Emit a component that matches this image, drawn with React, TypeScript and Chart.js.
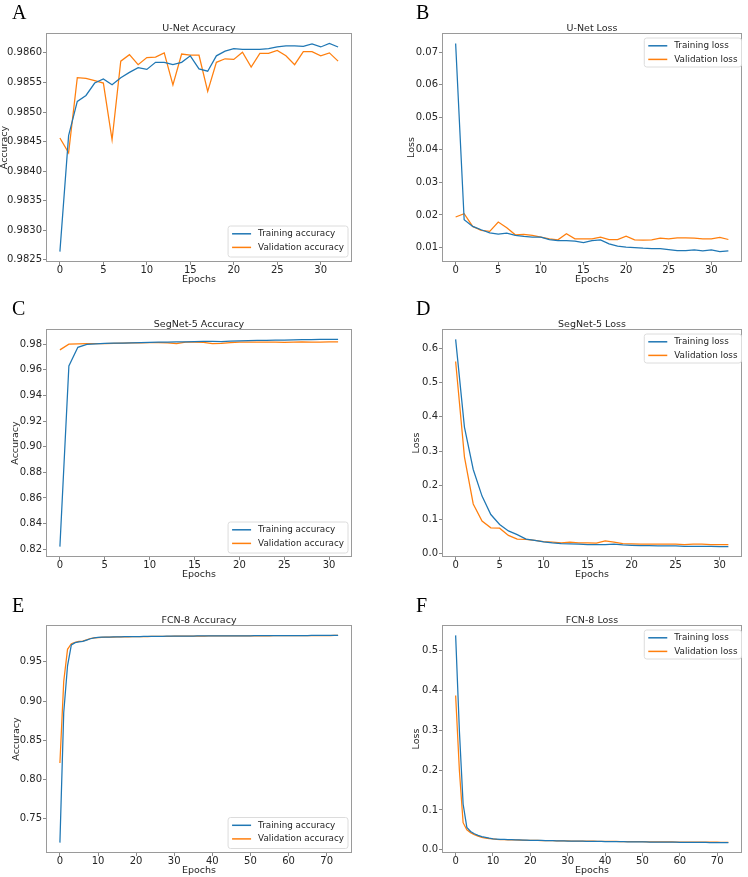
import React, { useEffect, useRef } from "react";
import { Chart, registerables } from "chart.js";

Chart.register(...registerables);

// ---------------- data ----------------
const X_TICKS_SHORT = [0, 5, 10, 15, 20, 25, 30];
const X_TICKS_LONG = [0, 10, 20, 30, 40, 50, 60, 70];

// U-Net
const A_TRAIN = [0.98264, 0.9846, 0.98518, 0.98528, 0.98549, 0.98556, 0.98546, 0.98558, 0.98567, 0.98575, 0.98572, 0.98584, 0.98584, 0.9858, 0.98584, 0.98595, 0.98573, 0.98569, 0.98595, 0.98603, 0.98607, 0.98606, 0.98606, 0.98606, 0.98607, 0.9861, 0.98612, 0.98612, 0.98611, 0.98615, 0.9861, 0.98616, 0.9861];
const A_VAL = [0.98456, 0.98431, 0.98558, 0.98557, 0.98553, 0.98549, 0.98453, 0.98586, 0.98597, 0.9858, 0.98592, 0.98593, 0.986, 0.98546, 0.98598, 0.98596, 0.98596, 0.98535, 0.98584, 0.9859, 0.98589, 0.98601, 0.98576, 0.98599, 0.98599, 0.98604, 0.98595, 0.9858, 0.98602, 0.98602, 0.98595, 0.986, 0.98586];
const A_Y_TICKS = [0.9825, 0.983, 0.9835, 0.984, 0.9845, 0.985, 0.9855, 0.986];

const B_TRAIN = [0.0727, 0.01856, 0.0165, 0.01546, 0.01454, 0.01412, 0.01443, 0.01371, 0.0134, 0.0132, 0.0132, 0.01247, 0.01216, 0.01216, 0.01196, 0.01155, 0.01216, 0.01237, 0.01113, 0.01041, 0.0101, 0.01, 0.0098, 0.00969, 0.00969, 0.00938, 0.00907, 0.00907, 0.00928, 0.00897, 0.00928, 0.00876, 0.00897];
const B_VAL = [0.01938, 0.02041, 0.01649, 0.01526, 0.01495, 0.01784, 0.01608, 0.01392, 0.01402, 0.01371, 0.0132, 0.01268, 0.01237, 0.01423, 0.01268, 0.01268, 0.01268, 0.0132, 0.01247, 0.01247, 0.0135, 0.01237, 0.01227, 0.01237, 0.01289, 0.01268, 0.01299, 0.01299, 0.01289, 0.01268, 0.01268, 0.0131, 0.01247];
const B_Y_TICKS = [0.01, 0.02, 0.03, 0.04, 0.05, 0.06, 0.07];

// SegNet-5
const C_TRAIN = [0.822, 0.963, 0.9775, 0.9797, 0.9802, 0.9805, 0.9807, 0.9808, 0.981, 0.9812, 0.9814, 0.9815, 0.9816, 0.9817, 0.9818, 0.982, 0.9821, 0.9821, 0.982, 0.9823, 0.9826, 0.9827, 0.9829, 0.983, 0.9831, 0.9832, 0.9833, 0.9834, 0.9835, 0.9836, 0.9837, 0.9836];
const C_VAL = [0.9755, 0.98, 0.9802, 0.9803, 0.9803, 0.9804, 0.9806, 0.9808, 0.9809, 0.981, 0.9811, 0.9812, 0.981, 0.9803, 0.9815, 0.9815, 0.9813, 0.9804, 0.9806, 0.9811, 0.9815, 0.9815, 0.9816, 0.9815, 0.9815, 0.9814, 0.9816, 0.9817, 0.9816, 0.9816, 0.9817, 0.9817];
const C_Y_TICKS = [0.82, 0.84, 0.86, 0.88, 0.9, 0.92, 0.94, 0.96, 0.98];

const D_TRAIN = [0.627, 0.37, 0.246, 0.168, 0.114, 0.085, 0.066, 0.055, 0.042, 0.038, 0.034, 0.031, 0.029, 0.028, 0.027, 0.026, 0.026, 0.026, 0.027, 0.025, 0.024, 0.023, 0.023, 0.022, 0.022, 0.022, 0.021, 0.021, 0.021, 0.021, 0.02, 0.02];
const D_VAL = [0.562, 0.283, 0.145, 0.095, 0.075, 0.074, 0.053, 0.042, 0.041, 0.038, 0.035, 0.033, 0.031, 0.033, 0.031, 0.031, 0.03, 0.037, 0.033, 0.029, 0.028, 0.027, 0.027, 0.027, 0.027, 0.027, 0.026, 0.027, 0.027, 0.026, 0.026, 0.026];
const D_Y_TICKS = [0, 0.1, 0.2, 0.3, 0.4, 0.5, 0.6];

// FCN-8
const E_TRAIN = [
  0.7194, 0.885, 0.945, 0.9715, 0.9745, 0.9755, 0.9762, 0.9778, 0.9795, 0.9805,
  0.9811, 0.9814, 0.9816, 0.9817, 0.9818, 0.9819, 0.982, 0.9821, 0.9821, 0.9822,
  0.9823, 0.9823, 0.9824, 0.9824, 0.9825, 0.9825, 0.9826, 0.9826, 0.9827, 0.9827,
  0.9828, 0.9828, 0.9828, 0.9829, 0.9829, 0.9829, 0.983, 0.983, 0.983, 0.9831,
  0.9831, 0.9831, 0.9831, 0.9832, 0.9832, 0.9832, 0.9832, 0.9833, 0.9833, 0.9833,
  0.9833, 0.9834, 0.9834, 0.9834, 0.9834, 0.9834, 0.9835, 0.9835, 0.9835, 0.9835,
  0.9835, 0.9836, 0.9836, 0.9836, 0.9836, 0.9836, 0.9837, 0.9837, 0.9837, 0.9837,
  0.9837, 0.9837, 0.9838, 0.9838,
];
const E_VAL = [
  0.821, 0.925, 0.966, 0.9732, 0.975, 0.976, 0.9765, 0.978, 0.9798, 0.9806,
  0.981, 0.9813, 0.9815, 0.9816, 0.9817, 0.9818, 0.9819, 0.982, 0.982, 0.9821,
  0.9822, 0.9822, 0.9823, 0.9823, 0.9824, 0.9824, 0.9825, 0.9825, 0.9826, 0.9826,
  0.9827, 0.9827, 0.9827, 0.9828, 0.9828, 0.9828, 0.9829, 0.9829, 0.9829, 0.983,
  0.983, 0.983, 0.983, 0.9831, 0.9831, 0.9831, 0.9831, 0.9832, 0.9832, 0.9832,
  0.9832, 0.9833, 0.9833, 0.9833, 0.9833, 0.9833, 0.9834, 0.9834, 0.9834, 0.9834,
  0.9834, 0.9835, 0.9835, 0.9835, 0.9835, 0.9835, 0.9836, 0.9836, 0.9836, 0.9836,
  0.9836, 0.9836, 0.9837, 0.9837,
];
const E_Y_TICKS = [0.75, 0.8, 0.85, 0.9, 0.95];

const F_TRAIN = [
  0.539, 0.3, 0.115, 0.056, 0.046, 0.04, 0.036, 0.033, 0.031, 0.029,
  0.0275, 0.0268, 0.0262, 0.0258, 0.0255, 0.0252, 0.0249, 0.0246, 0.0243, 0.024,
  0.0238, 0.0236, 0.0234, 0.0232, 0.023, 0.0228, 0.0226, 0.0224, 0.0222, 0.022,
  0.0218, 0.0217, 0.0216, 0.0215, 0.0213, 0.0212, 0.0211, 0.021, 0.0209, 0.0207,
  0.0206, 0.0205, 0.0204, 0.0203, 0.0202, 0.0201, 0.02, 0.0199, 0.0198, 0.0197,
  0.0196, 0.0195, 0.0194, 0.0193, 0.0192, 0.0191, 0.019, 0.019, 0.0189, 0.0188,
  0.0187, 0.0186, 0.0186, 0.0185, 0.0184, 0.0183, 0.0183, 0.0182, 0.0181, 0.0181,
  0.018, 0.0179, 0.0179, 0.0178,
];
const F_VAL = [
  0.388, 0.2, 0.068, 0.05, 0.043, 0.038, 0.034, 0.031, 0.029, 0.028,
  0.027, 0.026, 0.0256, 0.0252, 0.025, 0.0247, 0.0245, 0.0243, 0.024, 0.0238,
  0.0236, 0.0235, 0.0233, 0.0231, 0.0229, 0.0228, 0.0226, 0.0225, 0.0223, 0.0222,
  0.022, 0.0219, 0.0218, 0.0217, 0.0216, 0.0215, 0.0214, 0.0213, 0.0212, 0.0211,
  0.021, 0.0209, 0.0208, 0.0207, 0.0206, 0.0205, 0.0204, 0.0203, 0.0203, 0.0202,
  0.0201, 0.02, 0.0199, 0.0199, 0.0198, 0.0197, 0.0196, 0.0196, 0.0195, 0.0194,
  0.0194, 0.0193, 0.0192, 0.0192, 0.0191, 0.0191, 0.019, 0.019, 0.0189, 0.0188,
  0.0188, 0.0187, 0.0187, 0.0186,
];
const F_Y_TICKS = [0, 0.1, 0.2, 0.3, 0.4, 0.5];

// ---------------- style ----------------
const BLUE = "#1f77b4";
const ORANGE = "#ff7f0e";
const FONT = "'DejaVu Sans', sans-serif";
const TEXT = "#262626";
const TICK_SIZE = 10;
const LABEL_SIZE = 9.5;
const TITLE_LH = 0.8;
const LEGEND_SIZE = 8.8;
const X_AXIS_H = 22.75;
const TITLE_GAP = 0.5;

type Box = { l: number; t: number; r: number; b: number };
type Panel = {
  letter: string;
  title: string;
  yTitle: string;
  train: number[];
  val: number[];
  trainLabel: string;
  valLabel: string;
  xTicks: number[];
  yTicks: number[];
  yDec: number;
  canvas: { x: number; y: number; w: number; h: number };
  box: Box;
  yLabelOff: number;
  legend: "lower" | "upper";
  legInset: { r: number; v: number };
  legH: number;
  letterPos: { x: number; y: number };
};

const PANELS: Panel[] = [
  {
    letter: "A", title: "U-Net Accuracy", yTitle: "Accuracy", train: A_TRAIN, val: A_VAL,
    trainLabel: "Training accuracy", valLabel: "Validation accuracy",
    xTicks: X_TICKS_SHORT, yTicks: A_Y_TICKS, yDec: 4,
    canvas: { x: 0, y: 0, w: 374, h: 290 }, box: { l: 46, t: 33, r: 352, b: 262 },
    yLabelOff: 41.5, legend: "lower", legInset: { r: 4, v: 5 }, legH: 31, letterPos: { x: 12, y: 1.5 },
  },
  {
    letter: "B", title: "U-Net Loss", yTitle: "Loss", train: B_TRAIN, val: B_VAL,
    trainLabel: "Training loss", valLabel: "Validation loss",
    xTicks: X_TICKS_SHORT, yTicks: B_Y_TICKS, yDec: 2,
    canvas: { x: 374, y: 0, w: 374, h: 290 }, box: { l: 442, t: 33, r: 742, b: 262 },
    yLabelOff: 30.5, legend: "upper", legInset: { r: 0.5, v: 5 }, legH: 29, letterPos: { x: 416, y: 1.5 },
  },
  {
    letter: "C", title: "SegNet-5 Accuracy", yTitle: "Accuracy", train: C_TRAIN, val: C_VAL,
    trainLabel: "Training accuracy", valLabel: "Validation accuracy",
    xTicks: X_TICKS_SHORT, yTicks: C_Y_TICKS, yDec: 2,
    canvas: { x: 0, y: 290, w: 374, h: 290 }, box: { l: 46, t: 329, r: 352, b: 557 },
    yLabelOff: 30, legend: "lower", legInset: { r: 4, v: 4 }, legH: 31, letterPos: { x: 12, y: 298 },
  },
  {
    letter: "D", title: "SegNet-5 Loss", yTitle: "Loss", train: D_TRAIN, val: D_VAL,
    trainLabel: "Training loss", valLabel: "Validation loss",
    xTicks: X_TICKS_SHORT, yTicks: D_Y_TICKS, yDec: 1,
    canvas: { x: 374, y: 290, w: 374, h: 290 }, box: { l: 442, t: 329, r: 742, b: 557 },
    yLabelOff: 25.3, legend: "upper", legInset: { r: 0.5, v: 5 }, legH: 29, letterPos: { x: 416, y: 298 },
  },
  {
    letter: "E", title: "FCN-8 Accuracy", yTitle: "Accuracy", train: E_TRAIN, val: E_VAL,
    trainLabel: "Training accuracy", valLabel: "Validation accuracy",
    xTicks: X_TICKS_LONG, yTicks: E_Y_TICKS, yDec: 2,
    canvas: { x: 0, y: 580, w: 374, h: 297 }, box: { l: 46, t: 625, r: 352, b: 853 },
    yLabelOff: 29.5, legend: "lower", legInset: { r: 4, v: 4.5 }, legH: 31, letterPos: { x: 12, y: 595 },
  },
  {
    letter: "F", title: "FCN-8 Loss", yTitle: "Loss", train: F_TRAIN, val: F_VAL,
    trainLabel: "Training loss", valLabel: "Validation loss",
    xTicks: X_TICKS_LONG, yTicks: F_Y_TICKS, yDec: 1,
    canvas: { x: 374, y: 580, w: 374, h: 297 }, box: { l: 442, t: 625, r: 742, b: 853 },
    yLabelOff: 25.5, legend: "upper", legInset: { r: 0.5, v: 5 }, legH: 29, letterPos: { x: 416, y: 595 },
  },
];

// ---------------- plugins ----------------
const framePlugin = {
  id: "frame",
  afterDatasetsDraw(chart: any) {
    const { ctx, chartArea } = chart;
    const l = Math.round(chartArea.left) + 0.5;
    const t = Math.round(chartArea.top) + 0.5;
    const r = Math.round(chartArea.right) - 0.5;
    const b = Math.round(chartArea.bottom) - 0.5;
    ctx.save();
    ctx.strokeStyle = "#9a9a9a";
    ctx.lineWidth = 1;
    ctx.strokeRect(l, t, r - l, b - t);
    ctx.restore();
  },
};

const boxLegendPlugin = {
  id: "boxLegend",
  afterDraw(chart: any, _args: any, opts: any) {
    const { ctx, chartArea } = chart;
    const items = chart.data.datasets;
    ctx.save();
    ctx.font = `${LEGEND_SIZE}px ${FONT}`;
    const textW = Math.max(...items.map((d: any) => ctx.measureText(d.label).width));
    const w = 30 + textW + 4;
    const h = opts.h;
    const x = chartArea.right - opts.inset.r - w;
    const y = opts.pos === "lower" ? chartArea.bottom - opts.inset.v - h : chartArea.top + opts.inset.v;
    const rr = 2.5;
    ctx.beginPath();
    ctx.moveTo(x + rr, y);
    ctx.lineTo(x + w - rr, y);
    ctx.arcTo(x + w, y, x + w, y + rr, rr);
    ctx.lineTo(x + w, y + h - rr);
    ctx.arcTo(x + w, y + h, x + w - rr, y + h, rr);
    ctx.lineTo(x + rr, y + h);
    ctx.arcTo(x, y + h, x, y + h - rr, rr);
    ctx.lineTo(x, y + rr);
    ctx.arcTo(x, y, x + rr, y, rr);
    ctx.closePath();
    ctx.fillStyle = "rgba(255,255,255,0.8)";
    ctx.fill();
    ctx.strokeStyle = "#dcdcdc";
    ctx.lineWidth = 1;
    ctx.stroke();
    items.forEach((d: any, i: number) => {
      const cy = y + 7.8 + i * 13.6;
      ctx.strokeStyle = d.borderColor;
      ctx.lineWidth = 1.5;
      ctx.beginPath();
      ctx.moveTo(x + 4, cy);
      ctx.lineTo(x + 23, cy);
      ctx.stroke();
      ctx.fillStyle = TEXT;
      ctx.textBaseline = "middle";
      ctx.textAlign = "left";
      ctx.fillText(d.label, x + 30, cy);
    });
    ctx.restore();
  },
};

// ---------------- components ----------------
function PanelChart({ p }: { p: Panel }) {
  const ref = useRef<HTMLCanvasElement>(null);
  useEffect(() => {
    if (!ref.current) return;
    const all = [...p.train, ...p.val];
    const lo = Math.min(...all);
    const hi = Math.max(...all);
    const ym = (hi - lo) * 0.05;
    const n = Math.max(p.train.length, p.val.length) - 1;
    const xm = n * 0.05;

    const labelLH = LABEL_SIZE; // lineHeight 1
    const yAxisW = p.yLabelOff + labelLH / 2;
    const padLeft = p.box.l - p.canvas.x - yAxisW;
    const padRight = p.canvas.x + p.canvas.w - p.box.r;
    const padTop = p.box.t - p.canvas.y - (LABEL_SIZE * TITLE_LH + TITLE_GAP);
    const padBottom = p.canvas.y + p.canvas.h - (p.box.b + X_AXIS_H);

    const tickFont = { family: FONT, size: TICK_SIZE, lineHeight: 1 };
    const labelFont = { family: FONT, size: LABEL_SIZE, lineHeight: 1 };

    const chart = new Chart(ref.current, {
      type: "line",
      data: {
        datasets: [
          {
            label: p.trainLabel,
            data: p.train.map((v, i) => ({ x: i, y: v })),
            borderColor: BLUE,
            backgroundColor: BLUE,
            borderWidth: 1.25,
            pointRadius: 0,
            tension: 0,
          },
          {
            label: p.valLabel,
            data: p.val.map((v, i) => ({ x: i, y: v })),
            borderColor: ORANGE,
            backgroundColor: ORANGE,
            borderWidth: 1.25,
            pointRadius: 0,
            tension: 0,
          },
        ],
      },
      options: {
        responsive: false,
        animation: false,
        devicePixelRatio: 1,
        events: [],
        layout: { padding: { left: padLeft, right: padRight, top: padTop, bottom: padBottom } },
        plugins: {
          legend: { display: false },
          tooltip: { enabled: false },
          title: {
            display: true,
            text: p.title,
            fullSize: false,
            color: TEXT,
            font: { family: FONT, size: LABEL_SIZE, lineHeight: TITLE_LH, weight: "normal" },
            padding: { top: 0, bottom: TITLE_GAP },
          },
          boxLegend: { pos: p.legend, inset: p.legInset, h: p.legH },
        } as any,
        scales: {
          x: {
            type: "linear",
            min: -xm,
            max: n + xm,
            afterBuildTicks: (s: any) => {
              s.ticks = p.xTicks.map((v) => ({ value: v }));
            },
            afterFit: (s: any) => {
              s.height = X_AXIS_H;
            },
            ticks: {
              font: tickFont,
              color: TEXT,
              padding: 0,
              maxRotation: 0,
              autoSkip: false,
              callback: (v: any) => String(v),
            },
            grid: { display: true, drawOnChartArea: false, drawTicks: true, tickLength: 3, tickColor: "#8a8a8a" },
            border: { display: false },
            title: { display: true, text: "Epochs", color: TEXT, font: labelFont, padding: 0 },
          },
          y: {
            type: "linear",
            min: lo - ym,
            max: hi + ym,
            afterBuildTicks: (s: any) => {
              s.ticks = p.yTicks.map((v) => ({ value: v }));
            },
            afterFit: (s: any) => {
              s.width = yAxisW;
            },
            ticks: {
              font: tickFont,
              color: TEXT,
              padding: 1,
              autoSkip: false,
              callback: (v: any) => Number(v).toFixed(p.yDec),
            },
            grid: { display: true, drawOnChartArea: false, drawTicks: true, tickLength: 3, tickColor: "#8a8a8a" },
            border: { display: false },
            title: { display: true, text: p.yTitle, color: TEXT, font: labelFont, padding: 0 },
          },
        },
      } as any,
      plugins: [framePlugin, boxLegendPlugin],
    });
    return () => chart.destroy();
  }, [p]);

  return (
    <canvas
      ref={ref}
      width={p.canvas.w}
      height={p.canvas.h}
      style={{ position: "absolute", left: p.canvas.x, top: p.canvas.y, width: p.canvas.w, height: p.canvas.h }}
    />
  );
}

export default function App() {
  return (
    <div style={{ position: "absolute", left: 0, top: 0, width: 748, height: 877, background: "#fff", overflow: "hidden" }}>
      {PANELS.map((p) => (
        <PanelChart key={p.letter} p={p} />
      ))}
      {PANELS.map((p) => (
        <div
          key={"letter-" + p.letter}
          style={{
            position: "absolute",
            left: p.letterPos.x,
            top: p.letterPos.y,
            fontFamily: "'Liberation Serif', 'Times New Roman', serif",
            fontSize: 20,
            lineHeight: 1,
            color: "#000",
          }}
        >
          {p.letter}
        </div>
      ))}
    </div>
  );
}
